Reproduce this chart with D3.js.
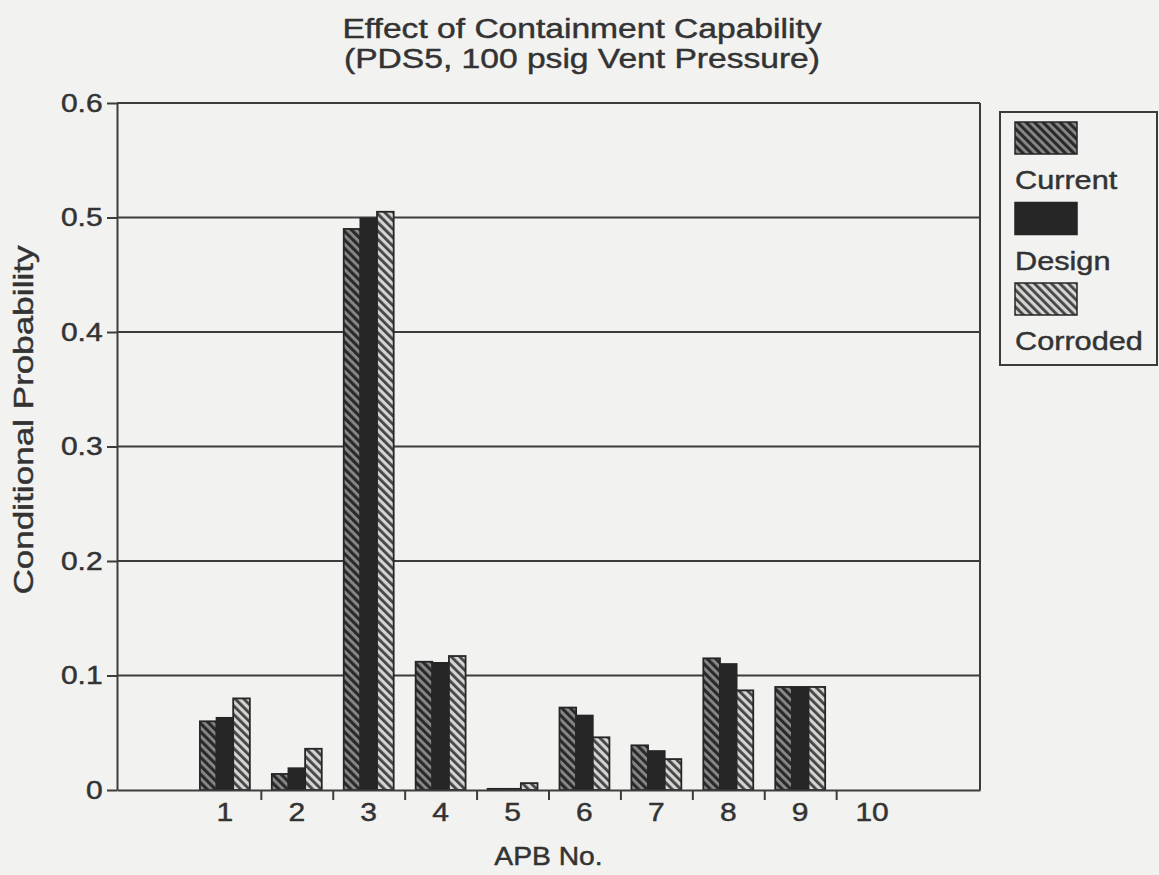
<!DOCTYPE html>
<html>
<head>
<meta charset="utf-8">
<script src="https://cdn.jsdelivr.net/npm/d3@7"></script>
<style>
  body { margin: 0; background: #f2f2f0; }
  text { font-family: "Liberation Sans", Arial, sans-serif; fill: #333; stroke: #333; stroke-width: 0.45px; }
</style>
</head>
<body>
<div id="chart"></div>
<script>
// data
var categories = ["1", "2", "3", "4", "5", "6", "7", "8", "9", "10"];
var seriesNames = ["Current", "Design", "Corroded"];
var current  = [0.060, 0.014, 0.490, 0.112, 0.001, 0.072, 0.039, 0.115, 0.090, 0];
var design   = [0.063, 0.019, 0.499, 0.111, 0.001, 0.065, 0.034, 0.110, 0.090, 0];
var corroded = [0.080, 0.036, 0.505, 0.117, 0.006, 0.046, 0.027, 0.087, 0.090, 0];
var yTicks = [0, 0.1, 0.2, 0.3, 0.4, 0.5, 0.6];
var titleLines = ["Effect of Containment Capability", "(PDS5, 100 psig Vent Pressure)"];

var width = 1159, height = 875;
var margin = {top: 103, right: 179, bottom: 85, left: 117};
var plotW = width - margin.left - margin.right,
    plotH = height - margin.top - margin.bottom;

var svg = d3.select("#chart").append("svg")
    .attr("width", width)
    .attr("height", height);

// hatch patterns
var defs = svg.append("defs");
function hatch(id, bg, fg, w) {
    var p = defs.append("pattern")
        .attr("id", id)
        .attr("patternUnits", "userSpaceOnUse")
        .attr("width", 6).attr("height", 6)
        .attr("patternTransform", "rotate(-45)");
    p.append("rect").attr("width", 6).attr("height", 6).attr("fill", bg);
    p.append("rect").attr("x", 0).attr("width", w).attr("height", 6).attr("fill", fg);
}
hatch("hCurrent", "#8a8a8a", "#2a2a2a", 3.2);
hatch("hCorroded", "#d4d4d2", "#444", 2.8);
var fills = {"Current": "url(#hCurrent)", "Design": "#262626", "Corroded": "url(#hCorroded)"};

var g = svg.append("g")
    .attr("transform", "translate(" + margin.left + "," + margin.top + ")");

// scales
var x = d3.scaleBand()
    .domain(categories)
    .range([0, plotW])
    .paddingInner(0)
    .paddingOuter(1);
var x1 = d3.scaleBand()
    .domain(seriesNames)
    .range([11, x.bandwidth() - 11]);
var xEdge = d3.scaleLinear()
    .domain([0, categories.length + 2])
    .range([0, plotW]);
var y = d3.scaleLinear()
    .domain([0, 0.6])
    .range([plotH, 0]);

// gridlines
g.selectAll(".grid")
    .data(yTicks.filter(function(d) { return d > 0; }))
    .enter().append("line")
    .attr("class", "grid")
    .attr("x1", 0).attr("x2", plotW)
    .attr("y1", function(d) { return y(d); })
    .attr("y2", function(d) { return y(d); })
    .attr("stroke", "#3c3c3c")
    .attr("stroke-width", 2);

// right frame
g.append("line")
    .attr("x1", plotW).attr("x2", plotW)
    .attr("y1", 0).attr("y2", plotH)
    .attr("stroke", "#3c3c3c")
    .attr("stroke-width", 2);

// bars
var rows = categories.map(function(c, i) {
    return {cat: c, values: [
        {key: "Current", v: current[i]},
        {key: "Design", v: design[i]},
        {key: "Corroded", v: corroded[i]}
    ]};
});

g.selectAll(".grp")
    .data(rows)
    .enter().append("g")
    .attr("class", "grp")
    .attr("transform", function(d) { return "translate(" + x(d.cat) + ",0)"; })
  .selectAll("rect")
    .data(function(d) { return d.values.filter(function(e) { return e.v > 0; }); })
    .enter().append("rect")
    .attr("x", function(d) { return x1(d.key); })
    .attr("width", x1.bandwidth())
    .attr("y", function(d) { return y(d.v); })
    .attr("height", function(d) { return plotH - y(d.v); })
    .attr("fill", function(d) { return fills[d.key]; })
    .attr("stroke", "#262626")
    .attr("stroke-width", 1.8);

// x axis: tick marks between groups only
var xTickAxis = g.append("g")
    .attr("transform", "translate(0," + plotH + ")")
    .call(d3.axisBottom(xEdge)
        .tickValues(d3.range(2, categories.length + 1))
        .tickSize(10)
        .tickSizeOuter(0)
        .tickFormat(""));
xTickAxis.select(".domain").attr("stroke", "#3c3c3c").attr("stroke-width", 2);
xTickAxis.selectAll(".tick line").attr("stroke", "#3c3c3c").attr("stroke-width", 2);

// x axis: labels under groups
var xLab = g.append("g")
    .attr("transform", "translate(0," + plotH + ")")
    .call(d3.axisBottom(x).tickSize(0).tickPadding(13));
xLab.select(".domain").remove();
xLab.selectAll("text")
    .style("font-size", "25px")
    .style("fill", "#333")
    .attr("transform", "scale(1.2,1)");

// y axis
var yAx = g.append("g")
    .call(d3.axisLeft(y)
        .tickValues(yTicks)
        .tickSize(10)
        .tickSizeOuter(0)
        .tickPadding(2)
        .tickFormat(function(d) { return String(d); }));
yAx.select(".domain").attr("stroke", "#3c3c3c").attr("stroke-width", 2);
yAx.selectAll(".tick line").attr("stroke", "#3c3c3c").attr("stroke-width", 2);
yAx.selectAll("text")
    .style("font-size", "25px")
    .style("fill", "#333")
    .attr("transform", "scale(1.2,1)");

// titles
svg.selectAll(".title")
    .data(titleLines)
    .enter().append("text")
    .attr("class", "title")
    .attr("text-anchor", "middle")
    .attr("transform", function(d, i) { return "translate(582," + (38 + i * 30) + ") scale(1.2,1)"; })
    .style("font-size", "28px")
    .text(function(d) { return d; });

svg.append("text")
    .attr("text-anchor", "middle")
    .attr("transform", "translate(" + (margin.left + plotW / 2) + ",865) scale(1.13,1)")
    .style("font-size", "25px")
    .text("APB No.");

svg.append("text")
    .attr("text-anchor", "middle")
    .attr("transform", "translate(33,420) rotate(-90) scale(1.3,1)")
    .style("font-size", "27px")
    .text("Conditional Probability");

// legend
var leg = svg.append("g");
leg.append("rect")
    .attr("x", 1000).attr("y", 112)
    .attr("width", 157).attr("height", 253)
    .attr("fill", "none")
    .attr("stroke", "#3c3c3c")
    .attr("stroke-width", 2);
var li = leg.selectAll(".li")
    .data(seriesNames)
    .enter().append("g")
    .attr("transform", function(d, i) { return "translate(1015," + (122 + i * 80.5) + ")"; });
li.append("rect")
    .attr("width", 62).attr("height", 32)
    .attr("fill", function(d) { return fills[d]; })
    .attr("stroke", "#262626")
    .attr("stroke-width", 1.5);
li.append("text")
    .attr("transform", "translate(0,67) scale(1.18,1)")
    .style("font-size", "26px")
    .text(function(d) { return d; });
</script>
</body>
</html>
